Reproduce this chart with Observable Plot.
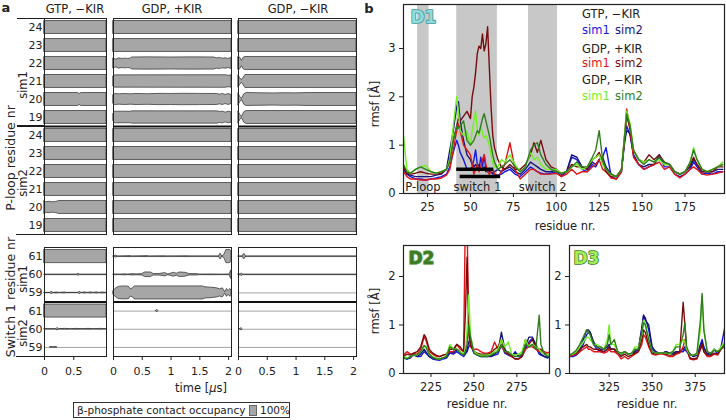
<!DOCTYPE html>
<html><head><meta charset="utf-8">
<script src="https://cdn.jsdelivr.net/npm/d3@7"></script>
<script src="https://cdn.jsdelivr.net/npm/@observablehq/plot@0.6"></script>
<style>
body{margin:0;background:#fff;}
#root{position:relative;width:726px;height:420px;font-family:"DejaVu Sans",sans-serif;color:#222;overflow:hidden;background:#fff;}
.abs{position:absolute;white-space:nowrap;line-height:1.2;}
.blk{position:absolute;}
</style></head><body><div id="root"></div>
<script>
// ---------------- Panel a data ----------------
const conditions = ["GTP, −KIR", "GDP, +KIR", "GDP, −KIR"];
const timeMax = [1.06, 2.05, 2.05];
const timeTicks = [[0, 0.5], [0, 0.5, 1, 1.5, 2], [0, 0.5, 1, 1.5, 2]];
const sims = ["sim1", "sim2"];
const ploopResidues = [24, 23, 22, 21, 20, 19];
const switchResidues = [61, 60, 59];

// occupancy breakpoints [time µs, occupancy 0..1]
const ploopGTP = {
  sim1: {24: [[0,1],[1.06,1]], 23: [[0,1],[1.06,1]], 22: [[0,1],[1.06,1]], 21: [[0,1],[1.06,1]],
         20: [[0,1],[0.57,1],[0.6,0.85],[0.63,1],[1.06,1]], 19: [[0,1],[1.06,1]]},
  sim2: {24: [[0,1],[1.06,1]], 23: [[0,1],[1.06,1]], 22: [[0,1],[1.06,1]], 21: [[0,1],[1.06,1]],
         20: [[0,1],[0.03,0.82],[0.08,0.88],[0.14,0.8],[0.2,0.86],[0.25,1],[1.06,1]], 19: [[0,1],[1.06,1]]}
};
const ploopGDPKIR = {
  sim1: {24: [[0,1],[2.05,1]], 23: [[0,1],[2.05,1]],
         22: [[0,0.75],[0.05,0.6],[0.1,0.8],[0.15,0.7],[0.2,0.75],[0.25,0.7],[0.3,0.75],[0.32,0.93],[0.6,0.95],[1.0,0.93],[1.4,0.95],[1.75,0.93],[1.8,0.8],[1.85,0.85],[1.9,0.75],[1.95,0.8],[2.0,0.7],[2.05,0.85]],
         21: [[0,0.8],[0.03,0.95],[1.95,0.97],[2.0,0.88],[2.05,0.95]],
         20: [[0,0.7],[0.03,0.85],[0.1,0.8],[0.2,0.85],[0.3,0.8],[0.4,0.85],[0.6,0.82],[0.8,0.87],[1.0,0.85],[1.2,0.88],[1.5,0.86],[1.8,0.85],[1.85,0.75],[1.9,0.85],[1.95,0.7],[2.0,0.85],[2.05,0.7]],
         19: [[0,0.6],[0.03,0.9],[0.3,0.88],[0.32,0.95],[1.8,0.95],[1.85,0.85],[1.9,0.9],[1.95,0.75],[2.0,0.9],[2.05,0.8]]},
  sim2: {24: [[0,1],[2.05,1]], 23: [[0,1],[2.05,1]], 22: [[0,1],[2.05,1]], 21: [[0,1],[2.05,1]], 20: [[0,1],[2.05,1]], 19: [[0,1],[2.05,1]]}
};
const ploopGDP = {
  sim1: {24: [[0,1],[2.05,1]], 23: [[0,1],[2.05,1]],
         22: [[0,0.95],[0.03,0.9],[0.06,0.4],[0.09,0.9],[0.12,1],[2.05,1]],
         21: [[0,0.9],[0.03,0.5],[0.06,0.2],[0.09,0.6],[0.12,1],[2.05,1]],
         20: [[0,0.9],[0.03,0.4],[0.06,0.1],[0.1,0.8],[0.14,1],[0.4,0.96],[0.6,0.94],[0.8,0.97],[1.0,0.95],[1.2,1],[2.05,1]],
         19: [[0,0.9],[0.03,0.4],[0.06,0.1],[0.1,0.8],[0.14,1],[2.05,1]]},
  sim2: {24: [[0,1],[2.05,1]], 23: [[0,1],[2.05,1]], 22: [[0,1],[2.05,1]], 21: [[0,1],[2.05,1]], 20: [[0,1],[2.05,1]], 19: [[0,1],[2.05,1]]}
};
const switchGTP = {
  sim1: {61: [[0,1],[1.06,1]],
         60: [[0,0],[0.55,0],[0.58,0.15],[0.61,0],[1.06,0]],
         59: [[0,0],[0.1,0],[0.12,0.2],[0.15,0],[0.22,0.08],[0.25,0],[0.35,0.08],[0.38,0],[0.58,0],[0.6,0.2],[0.63,0],[0.7,0.1],[0.73,0],[0.8,0.1],[0.83,0],[0.9,0.1],[0.93,0],[1.0,0.08],[1.06,0]]},
  sim2: {61: [[0,1],[1.06,1]],
         60: [[0,0],[0.2,0],[0.22,0.2],[0.25,0],[0.35,0.06],[0.45,0],[0.55,0.06],[0.65,0],[0.75,0.06],[0.85,0],[0.95,0.06],[1.06,0]],
         59: [[0.1,0],[0.12,0.1],[0.15,0],[0.18,0.1],[0.22,0]]}
};
const switchGDPKIR = {
  sim1: {61: [[0,0],[0.05,0.15],[0.08,0],[0.3,0.08],[0.32,0],[0.6,0.08],[0.62,0],[0.9,0.06],[0.92,0],[1.3,0.06],[1.32,0],[1.83,0],[1.86,0.45],[1.89,0],[1.93,0.3],[1.96,1],[2.03,1],[2.05,0.6]],
         60: [[0,0],[0.05,0.05],[0.1,0],[0.2,0.08],[0.25,0.03],[0.35,0.1],[0.4,0.05],[0.5,0.1],[0.55,0.35],[0.65,0.35],[0.7,0.1],[0.8,0.12],[0.9,0.25],[0.95,0.05],[1.05,0.3],[1.1,0.15],[1.15,0.35],[1.25,0.3],[1.32,0.1],[1.45,0.1],[1.5,0.02],[1.7,0.05],[1.9,0],[2.02,0.05],[2.04,0.6],[2.05,0.6]],
         59: [[0,0.3],[0.05,0.7],[0.1,0.95],[0.2,1],[0.27,0.95],[0.3,0.55],[0.34,0.7],[0.37,1],[1.55,1],[1.6,0.85],[1.7,0.8],[1.8,0.7],[1.85,0.55],[1.9,0.7],[1.94,0.1],[1.97,0.6],[2.0,0.3],[2.03,0.6],[2.05,0.3]]},
  sim2: {61: [[0.74,0],[0.76,0.2],[0.78,0]], 60: null, 59: null}
};
const switchGDP = {
  sim1: {61: [[0,0],[0.07,0],[0.09,0.35],[0.11,0.35],[0.13,0],[2.05,0]],
         60: [[0,0],[0.04,0.1],[0.06,0.2],[0.08,0],[2.05,0]],
         59: null},
  sim2: {61: null, 60: [[0.03,0],[0.05,0.2],[0.07,0]], 59: null}
};
const ploopOcc = [ploopGTP, ploopGDPKIR, ploopGDP];
const switchOcc = [switchGTP, switchGDPKIR, switchGDP];

// ---------------- Panel b data ----------------
const seriesNames = ["GTP sim1", "GTP sim2", "GDP+KIR sim1", "GDP+KIR sim2", "GDP−KIR sim1", "GDP−KIR sim2"];
const seriesColors = ["#1616e4", "#14147a", "#e01616", "#760c0c", "#72f024", "#2f7d1f"];

const resD1 = [11,13,15,18,21,24,27,30,33,36, 38,40,42,43,44,46,48,50,51,52, 53,54,55,56,57,58,59,60,61,62,
  63,64,66,68,70,73,76,79,82,85, 87,89,91,94,97,100,103,106,109,112, 115,118,121,123,125,127,129,132,135,138,
  140,141,143,145,148,151,154,157,160,163, 166,169,172,175,178,180,182,185,188,191, 194,197];
const d1GTP1 = [0.5,0.4,0.35,0.3,0.3,0.28,0.3,0.32,0.35,0.4, 0.55,0.85,1.1,1.0,0.85,0.7,0.5,0.5,0.55,0.7,
  0.9,0.6,0.5,0.75,0.55,0.8,0.5,0.45,0.5,0.45, 0.4,0.4,0.38,0.4,0.45,0.5,0.4,0.35,0.45,0.55,
  0.5,0.45,0.42,0.4,0.42,0.45,0.35,0.45,0.75,0.7, 0.5,0.45,0.6,0.55,0.7,0.75,0.95,0.35,0.3,0.45,
  1.2,1.4,1.2,0.8,0.6,0.5,0.55,0.6,0.8,0.55, 0.55,0.4,0.35,0.4,0.5,0.65,0.55,0.4,0.42,0.4, 0.45,0.45];
const d1GTP2 = [0.55,0.4,0.38,0.35,0.35,0.35,0.35,0.38,0.4,0.5, 0.9,1.3,1.8,1.9,1.5,1.1,0.8,0.7,0.6,0.55,
  0.6,0.55,0.6,0.5,0.5,0.55,0.45,0.5,0.45,0.45, 0.42,0.45,0.5,0.45,0.5,0.55,0.45,0.4,0.5,0.65,
  0.6,0.55,0.5,0.45,0.45,0.5,0.4,0.45,0.8,0.75, 0.55,0.5,0.65,0.6,0.7,0.75,0.55,0.4,0.35,0.5,
  1.1,1.3,1.25,0.8,0.6,0.55,0.6,0.6,0.75,0.6, 0.6,0.45,0.4,0.45,0.55,0.7,0.6,0.45,0.45,0.45, 0.5,0.5];
const d1KIR1 = [0.45,0.35,0.3,0.3,0.28,0.28,0.3,0.3,0.32,0.38, 0.5,0.9,1.3,1.45,1.3,1.0,0.9,0.8,0.6,0.4,
  0.5,0.6,0.45,0.55,0.7,0.8,0.6,0.45,0.4,0.45, 0.5,0.4,0.35,0.45,0.6,1.05,0.5,0.3,0.4,0.5,
  0.5,0.45,0.4,0.4,0.4,0.42,0.35,0.4,0.5,0.4, 0.45,0.45,0.55,0.6,0.7,0.5,0.45,0.32,0.3,0.45,
  1.3,1.75,1.3,0.75,0.6,0.5,0.55,0.6,0.65,0.5, 0.55,0.4,0.32,0.4,0.5,0.55,0.5,0.4,0.38,0.4, 0.42,0.45];
const d1KIR2 = [0.55,0.42,0.4,0.42,0.45,0.42,0.4,0.4,0.42,0.5, 0.7,1.1,1.4,1.55,1.5,1.6,1.7,1.55,2.0,2.2,
  2.5,2.9,3.05,3.0,3.3,2.95,3.1,3.45,2.6,1.8, 1.2,0.95,0.7,0.55,0.5,0.6,0.5,0.5,0.6,0.8,
  1.05,0.85,1.1,0.7,0.55,0.5,0.4,0.45,0.6,0.55, 0.55,0.5,0.7,0.75,0.85,0.65,0.45,0.35,0.35,0.5,
  1.2,1.6,1.35,0.9,0.7,0.65,0.8,0.7,0.8,0.65, 0.6,0.45,0.4,0.45,0.6,0.75,0.6,0.45,0.45,0.45, 0.55,0.55];
const d1GDP1 = [1.2,0.5,0.42,0.5,0.55,0.58,0.45,0.42,0.45,0.5, 0.7,1.4,2.0,1.7,1.3,1.2,1.3,1.0,1.3,1.5,
  1.7,1.3,1.2,1.4,1.25,1.15,1.2,1.1,1.0,0.8, 0.65,0.55,0.55,0.7,0.65,0.8,0.6,0.45,0.55,0.85,
  0.7,0.75,0.6,0.5,0.5,0.5,0.42,0.45,0.55,0.6, 0.5,0.55,0.7,0.75,0.8,0.6,0.5,0.38,0.35,0.5,
  1.3,1.7,1.45,0.9,0.7,0.65,0.7,0.65,0.7,0.6, 0.6,0.45,0.4,0.45,0.65,0.95,0.7,0.5,0.45,0.5, 0.55,0.65];
const d1GDP2 = [0.6,0.45,0.42,0.5,0.55,0.5,0.45,0.42,0.45,0.5, 0.65,1.1,1.4,1.35,1.4,1.5,1.1,1.0,1.05,1.1,
  1.2,1.3,1.25,1.4,1.55,1.65,1.5,1.35,1.2,1.0, 0.8,0.65,0.5,0.55,0.6,0.7,0.55,0.45,0.55,0.9,
  1.0,1.05,0.8,0.6,0.5,0.45,0.42,0.45,0.55,0.65, 0.55,0.55,0.75,0.9,1.3,0.7,0.5,0.4,0.35,0.5,
  1.25,1.65,1.4,0.9,0.7,0.6,0.7,0.65,0.75,0.65, 0.6,0.45,0.4,0.45,0.65,0.9,0.7,0.5,0.45,0.5, 0.55,0.6];

const resD2 = [209,211,213,215,217,219,221,222,224,226, 228,230,232,234,236,238,240,242,244,245,
  246,247,248,250,252,254,256,258,260,262, 264,266,268,270,272,274,276,278,280,282, 284,286,288,289,291,293,294];
const d2GTP1 = [0.35,0.3,0.32,0.4,0.35,0.35,0.45,0.42,0.35,0.3, 0.28,0.27,0.3,0.32,0.42,0.4,0.45,0.4,0.35,0.4,
  0.45,0.55,0.6,0.42,0.38,0.35,0.35,0.35,0.35,0.38, 0.4,0.6,0.42,0.38,0.35,0.45,0.35,0.35,0.5,0.65, 0.72,0.55,0.4,0.38,0.35,0.32,0.35];
const d2GTP2 = [0.32,0.3,0.35,0.38,0.35,0.4,0.5,0.45,0.35,0.32, 0.3,0.3,0.32,0.35,0.45,0.42,0.5,0.45,0.38,0.42,
  0.5,0.65,0.72,0.45,0.4,0.38,0.38,0.36,0.36,0.4, 0.45,0.85,0.5,0.4,0.36,0.42,0.38,0.38,0.55,0.75, 0.75,0.6,0.45,0.4,0.35,0.33,0.35];
const d2KIR1 = [0.38,0.45,0.4,0.42,0.4,0.5,0.75,0.7,0.45,0.4, 0.35,0.35,0.38,0.4,0.45,0.45,0.6,0.5,0.45,3.2,
  3.2,0.8,0.55,0.5,0.5,0.45,0.42,0.42,0.45,0.65, 0.5,0.55,0.45,0.4,0.35,0.3,0.3,0.35,0.5,0.55, 0.55,0.5,0.45,0.45,0.45,0.42,0.45];
const d2KIR2 = [0.35,0.4,0.38,0.42,0.45,0.55,0.8,0.75,0.5,0.42, 0.38,0.35,0.38,0.4,0.5,0.5,0.6,0.55,0.45,1.2,
  2.4,0.9,0.6,0.45,0.42,0.4,0.4,0.4,0.42,0.5, 0.55,0.7,0.45,0.4,0.35,0.3,0.3,0.35,0.7,0.6, 0.7,0.55,0.5,0.5,0.42,0.38,0.4];
const d2GDP1 = [0.35,0.32,0.35,0.38,0.38,0.45,0.55,0.55,0.4,0.35, 0.32,0.3,0.32,0.38,0.6,0.5,0.5,0.45,0.4,0.5,
  0.9,1.62,0.8,0.45,0.4,0.38,0.38,0.38,0.4,0.45, 0.5,0.7,0.55,0.65,0.4,0.38,0.4,0.45,0.7,0.55, 0.6,0.55,0.5,0.45,0.4,0.38,0.42];
const d2GDP2 = [0.33,0.3,0.35,0.38,0.38,0.45,0.58,0.55,0.4,0.33, 0.3,0.3,0.32,0.35,0.55,0.5,0.5,0.42,0.38,0.45,
  0.6,1.0,0.75,0.42,0.38,0.35,0.35,0.35,0.38,0.42, 0.45,0.6,0.45,0.45,0.38,0.35,0.35,0.4,0.6,0.55, 0.6,0.5,1.2,0.6,0.4,0.35,0.35];

const resD3 = [302,304,306,308,310,312,313,314,316,318, 320,322,324,325,326,328,330,332,334,336,
  338,340,342,344,345,346,348,350,352,354, 356,358,360,362,364,366,368,369,370,372, 374,376,378,379,380,382,384,386,388,390, 392];
const d3GTP1 = [0.35,0.35,0.38,0.45,0.6,0.8,0.85,0.85,0.6,0.5, 0.45,0.45,0.5,0.55,0.5,0.5,0.42,0.38,0.45,0.4,
  0.38,0.45,0.5,0.9,1.2,1.15,0.9,0.5,0.45,0.42, 0.42,0.45,0.42,0.4,0.45,0.45,0.45,0.5,0.45,0.4, 0.35,0.4,0.6,0.7,0.55,0.4,0.38,0.5,0.4,0.55, 0.92];
const d3GTP2 = [0.35,0.38,0.4,0.5,0.7,0.9,0.9,0.85,0.65,0.55, 0.5,0.5,0.55,0.6,0.5,0.5,0.42,0.4,0.45,0.4,
  0.4,0.45,0.5,0.95,1.2,1.1,1.0,0.55,0.45,0.42, 0.42,0.45,0.42,0.42,0.45,0.45,0.5,0.55,0.5,0.4, 0.35,0.38,0.55,0.65,0.5,0.42,0.4,0.5,0.45,0.5, 0.6];
const d3KIR1 = [0.35,0.38,0.4,0.45,0.5,0.55,0.5,0.5,0.45,0.45, 0.45,0.42,0.45,0.5,0.45,0.45,0.4,0.3,0.35,0.3,
  0.35,0.4,0.45,0.6,0.8,0.75,0.55,0.4,0.38,0.4, 0.4,0.38,0.35,0.35,0.4,0.42,0.55,0.7,0.5,0.3, 0.28,0.3,0.5,0.6,0.45,0.35,0.35,0.4,0.38,0.5, 0.55];
const d3KIR2 = [0.38,0.4,0.42,0.5,0.55,0.6,0.55,0.55,0.5,0.5, 0.48,0.45,0.5,0.55,0.5,0.5,0.45,0.35,0.4,0.35,
  0.38,0.42,0.45,0.7,0.9,0.85,0.6,0.42,0.4,0.42, 0.42,0.4,0.38,0.38,0.42,0.45,1.47,1.0,0.5,0.32, 0.3,0.32,0.5,0.6,0.45,0.38,0.38,0.42,0.4,0.5, 0.6];
const d3GDP1 = [0.38,0.4,0.45,0.55,0.65,0.75,0.75,0.7,0.6,0.6, 0.55,0.5,0.7,1.0,0.6,0.6,0.45,0.4,0.45,0.4,
  0.4,0.55,0.55,0.8,1.1,1.05,0.7,0.45,0.42,0.42, 0.42,0.42,0.4,0.45,0.6,0.6,0.7,0.65,0.5,0.38, 0.38,0.4,0.9,1.6,0.9,0.45,0.42,0.5,0.45,0.55, 0.65];
const d3GDP2 = [0.38,0.42,0.48,0.6,0.75,0.9,0.85,0.8,0.6,0.55, 0.55,0.5,0.6,0.8,0.6,0.7,0.45,0.42,0.45,0.4,
  0.42,0.5,0.5,0.85,1.05,1.0,0.7,0.45,0.42,0.42, 0.42,0.42,0.42,0.45,0.55,0.55,0.8,1.05,0.55,0.38, 0.38,0.42,1.1,1.65,0.9,0.45,0.42,0.48,0.45,0.5, 0.6];

const shadeRegions = [{name: "P-loop", from: 19.2, to: 25.9}, {name: "switch 1", from: 42, to: 65.7}, {name: "switch 2", from: 83.8, to: 100.7}];
const regionLabels = [{name: "P-loop", x: 12}, {name: "switch 1", x: 40.2}, {name: "switch 2", x: 78.2}];
const switchBars = [{y: 0.5, from: 42, to: 63.6}, {y: 0.35, from: 44, to: 67.6}];

// ---------------- helpers ----------------
const root = document.getElementById("root");
function place(el, left, top) {
  const w = document.createElement("div");
  w.className = "blk"; w.style.left = left + "px"; w.style.top = top + "px";
  w.appendChild(el); root.appendChild(w);
}
function label(html, x, y, o = {}) {
  const d = document.createElement("div");
  d.className = "abs"; d.innerHTML = html;
  d.style.left = x + "px"; d.style.top = y + "px";
  d.style.fontSize = (o.size || 11.5) + "px";
  if (o.weight) d.style.fontWeight = o.weight;
  if (o.color) d.style.color = o.color;
  const ax = o.anchor === "start" ? "0" : o.anchor === "end" ? "-100%" : "-50%";
  d.style.transform = `translate(${ax},-50%)` + (o.rotate ? " rotate(-90deg)" : "");
  root.appendChild(d);
  return d;
}
function hline(x1, x2, y, w = 1) {
  const d = document.createElement("div");
  d.className = "blk";
  d.style.left = x1 + "px"; d.style.top = (y - w / 2) + "px";
  d.style.width = (x2 - x1) + "px"; d.style.height = w + "px"; d.style.background = "#1a1a1a";
  root.appendChild(d);
}

// ---------------- Panel a ----------------
const colX = [44, 113, 238], colW = [62, 118, 118];
const HALF = 0.36;
function occPanel(c, residues, occ, top, h, isBottom) {
  const nRes = residues.length;
  const bands = [], rows = [];
  sims.forEach((s, si) => residues.forEach((r, j) => {
    const idx = si * nRes + j; rows.push(idx);
    const pts = occ[s][r];
    if (pts) pts.forEach(([t, o]) => bands.push({row: idx, t, lo: idx - HALF * o, hi: idx + HALF * o}));
  }));
  const mL = c === 0 ? 28 : 1, mR = 1, mT = 1, mB = isBottom ? 26 : 1;
  const chart = Plot.plot({
    width: colW[c] + mL + mR, height: h + mT + mB,
    marginLeft: mL, marginRight: mR, marginTop: mT, marginBottom: mB,
    style: {fontFamily: "DejaVu Sans, sans-serif", fontSize: "11px", color: "#222", background: "transparent", overflow: "visible"},
    x: {domain: [0, timeMax[c]], axis: null},
    y: {domain: [2 * nRes - 0.5, -0.5], axis: null},
    marks: [
      Plot.ruleY(rows, {stroke: "#a2a2a2", strokeWidth: 1}),
      Plot.areaY(bands, {x: "t", y1: "lo", y2: "hi", z: "row", fill: "#a6a6a6", stroke: "#2b2b2b", strokeWidth: 0.7}),
      Plot.ruleY([nRes - 0.5], {stroke: "#111", strokeWidth: 1.8}),
      Plot.frame({stroke: "#222", strokeWidth: 1}),
      c === 0 ? Plot.axisY(rows, {tickFormat: i => residues[i % nRes], tickSize: 0, tickPadding: 2, label: null}) : null,
      isBottom ? Plot.axisX(timeTicks[c], {tickSize: 4, tickPadding: 7, tickFormat: d => String(d), label: null}) : null
    ]
  });
  place(chart, colX[c] - mL, top - mT);
}
for (let c = 0; c < 3; c++) {
  occPanel(c, ploopResidues, ploopOcc[c], 18, 216, false);
  occPanel(c, switchResidues, switchOcc[c], 247, 109, true);
}
label("a", 6, 8, {size: 13, weight: "bold"});
label(conditions[0], 75, 10, {size: 11.5});
label(conditions[1], 172, 10, {size: 11.5});
label(conditions[2], 298, 10, {size: 11.5});
label("P-loop residue nr", 10, 158, {size: 12.5, rotate: true});
label("sim1", 24, 85, {size: 11.5, rotate: true});
label("sim2", 24, 183, {size: 11.5, rotate: true});
label("Switch 1 residue nr", 10, 297, {size: 12.5, rotate: true});
label("sim1", 24, 279, {size: 11.5, rotate: true});
label("sim2", 24, 333, {size: 11.5, rotate: true});
hline(17, 44, 18, 1);
hline(17, 44, 126, 1.8);
hline(16, 44, 234, 1);
hline(16, 44, 356, 1);
label("time [<i>μ</i>s]", 201, 389, {size: 11.5});
// legend box
const lg = document.createElement("div");
lg.className = "blk";
lg.style.cssText += "left:73px;top:402px;width:215px;height:14px;border:1px solid #333;";
root.appendChild(lg);
label("β-phosphate contact occupancy", 77, 409.5, {size: 10.5, anchor: "start"});
const sw = document.createElement("div");
sw.className = "blk";
sw.style.cssText += "left:249px;top:404.5px;width:6px;height:9px;background:#a6a6a6;border:1px solid #666;";
root.appendChild(sw);
label("100%", 260, 409.5, {size: 10.5, anchor: "start"});

// ---------------- Panel b ----------------
function rmsfPanel(res, series, xDomain, yMax, xTicks, yTicks, fx, fy, fw, fh, extra) {
  const mL = 30, mR = 2, mT = 2, mB = 24;
  const chart = Plot.plot({
    width: fw + mL + mR, height: fh + mT + mB,
    marginLeft: mL, marginRight: mR, marginTop: mT, marginBottom: mB,
    style: {fontFamily: "DejaVu Sans, sans-serif", fontSize: "11.5px", color: "#222", background: "transparent", overflow: "visible"},
    x: {domain: xDomain, axis: null},
    y: {domain: [0, yMax], axis: null},
    marks: [
      ...(extra.pre || []),
      ...series.map((vals, k) => Plot.line(res.map((r, i) => [r, vals[i]]), {stroke: seriesColors[k], strokeWidth: 1.4, clip: true})),
      ...(extra.post || []),
      Plot.frame({stroke: "#222", strokeWidth: 1.2}),
      Plot.axisX(xTicks, {tickSize: 4, tickPadding: 5, label: null}),
      Plot.axisY(yTicks, {tickSize: 4, tickPadding: 4, label: null})
    ]
  });
  place(chart, fx - mL, fy - mT);
}
const yMaxD1 = 3.91, yMaxD23 = 2.64;
rmsfPanel(resD1, [d1GTP1, d1GTP2, d1KIR1, d1KIR2, d1GDP1, d1GDP2], [11, 198], yMaxD1,
  [25, 50, 75, 100, 125, 150, 175], [0, 1, 2, 3], 403, 4, 321, 189, {
    pre: [Plot.rect(shadeRegions, {x1: "from", x2: "to", y1: 0, y2: yMaxD1, fill: "#c8c8c8"})],
    post: [
      Plot.ruleY(switchBars, {y: "y", x1: "from", x2: "to", stroke: "#000", strokeWidth: 3.5}),
      Plot.text(regionLabels, {x: "x", y: 0.12, text: "name", textAnchor: "start", fill: "#222"}),
      Plot.text(["D1"], {frameAnchor: "top-left", dx: 7, dy: 6, fontSize: 17, fontWeight: "bold", fill: "#92d9d9", stroke: "#3a9a9a", strokeWidth: 1.6})
    ]
  });
rmsfPanel(resD2, [d2GTP1, d2GTP2, d2KIR1, d2KIR2, d2GDP1, d2GDP2], [209, 294], yMaxD23,
  [225, 250, 275], [0, 1, 2], 403, 245, 146, 128, {
    post: [Plot.text(["D2"], {frameAnchor: "top-left", dx: 5, dy: 6, fontSize: 17, fontWeight: "bold", fill: "#3d7a28", stroke: "#6aa84a", strokeWidth: 1.6})]
  });
rmsfPanel(resD3, [d3GTP1, d3GTP2, d3KIR1, d3KIR2, d3GDP1, d3GDP2], [302, 392], yMaxD23,
  [325, 350, 375], [0, 1, 2], 569, 245, 155, 128, {
    post: [Plot.text(["D3"], {frameAnchor: "top-left", dx: 4, dy: 6, fontSize: 17, fontWeight: "bold", fill: "#a4ee5a", stroke: "#3b7a25", strokeWidth: 1.6})]
  });

label("b", 369, 9, {size: 13, weight: "bold"});
label("rmsf [Å]", 376, 104, {rotate: true});
label("rmsf [Å]", 376, 311, {rotate: true});
label("residue nr.", 565, 227);
label("residue nr.", 477, 405);
label("residue nr.", 647, 405);
// legend in D1
label("GTP, −KIR", 582, 15, {anchor: "start"});
label("sim1", 582, 31, {anchor: "start", color: seriesColors[0]});
label("sim2", 615, 31, {anchor: "start", color: seriesColors[1]});
label("GDP, +KIR", 582, 49.5, {anchor: "start"});
label("sim1", 582, 63.5, {anchor: "start", color: seriesColors[2]});
label("sim2", 615, 63.5, {anchor: "start", color: seriesColors[3]});
label("GDP, −KIR", 582, 81, {anchor: "start"});
label("sim1", 582, 96.5, {anchor: "start", color: seriesColors[4]});
label("sim2", 615, 96.5, {anchor: "start", color: seriesColors[5]});
</script></body></html>
